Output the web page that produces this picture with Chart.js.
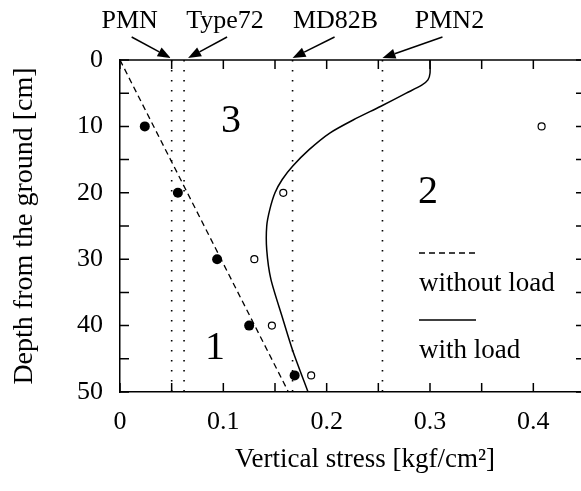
<!DOCTYPE html>
<html>
<head>
<meta charset="utf-8">
<script src="https://cdn.jsdelivr.net/npm/chart.js@4"></script>
<style>
  html, body { margin: 0; padding: 0; background: #fff; overflow: hidden; }
  #wrap { width: 581px; height: 491px; overflow: hidden; }
</style>
</head>
<body>
<div id="wrap"><canvas id="chart" width="600" height="491"></canvas></div>
<script>
// depth [cm] / vertical stress [kgf/cm2]
const depthWithLoad = [0, 2, 3, 3.8, 5, 7, 9, 11, 13.5, 16, 18, 20, 22.5, 25, 28.6, 33, 38.7, 43.7, 50];
const stressWithLoad = [0.300, 0.300, 0.298, 0.292, 0.277, 0.252, 0.226, 0.203, 0.183, 0.167, 0.157, 0.150, 0.145, 0.142, 0.142, 0.146, 0.157, 0.167, 0.182];
const depthWithoutLoad = [0, 50];
const stressWithoutLoad = [0, 0.163];
const measuredDepth = [10, 20, 30, 40, 47.5];
const measuredFilled = [0.024, 0.056, 0.094, 0.125, 0.169];
const measuredOpen = [0.408, 0.158, 0.130, 0.147, 0.185];
const mineNames = ['PMN', 'Type72', 'MD82B', 'PMN2'];
const mineStress = [0.050, 0.062, 0.167, 0.254];
const regionNames = ['1', '2', '3'];
const xTickLabels = ['0', '0.1', '0.2', '0.3', '0.4'];
const yTickLabels = ['0', '10', '20', '30', '40', '50'];

const FONT = "'Liberation Serif', 'Times New Roman', serif";

const toPoints = (xs, ys) => xs.map((x, i) => ({ x: x, y: ys[i] }));

const mineSets = mineStress.map((s, i) => ({
  label: mineNames[i],
  data: [{ x: s, y: 0 }, { x: s, y: 50 }],
  showLine: true,
  borderColor: '#000',
  borderWidth: 1.6,
  borderDash: [1.6, 8.4],
  pointRadius: 0
}));

// ticks drawn inward on all four sides, plus labels / arrows / legend
const decor = {
  id: 'decor',
  afterDraw(chart, args, opts) {
    const ctx = chart.ctx;
    const xs = chart.scales.x;
    const ys = chart.scales.y;
    const a = chart.chartArea;
    ctx.save();
    ctx.strokeStyle = '#000';
    ctx.fillStyle = '#000';
    ctx.lineWidth = 1.5;

    // top border
    ctx.beginPath();
    ctx.moveTo(a.left, a.top);
    ctx.lineTo(a.right, a.top);
    ctx.stroke();

    const tl = 9;
    ctx.beginPath();
    xs.ticks.forEach(t => {
      const px = xs.getPixelForValue(t.value);
      ctx.moveTo(px, a.bottom); ctx.lineTo(px, a.bottom - tl);
      ctx.moveTo(px, a.top); ctx.lineTo(px, a.top + tl);
    });
    ys.ticks.forEach(t => {
      const py = ys.getPixelForValue(t.value);
      ctx.moveTo(a.left, py); ctx.lineTo(a.left + tl, py);
      ctx.moveTo(a.right, py); ctx.lineTo(a.right - tl, py);
    });
    ctx.stroke();

    // region numbers
    ctx.font = '40px ' + FONT;
    ctx.textAlign = 'center';
    ctx.textBaseline = 'middle';
    regionNames.forEach((n, i) => {
      const p = opts.regionPos[i];
      ctx.fillText(n, xs.getPixelForValue(p[0]), ys.getPixelForValue(p[1]));
    });

    // mine names with arrows
    ctx.font = '26px ' + FONT;
    ctx.textBaseline = 'alphabetic';
    mineNames.forEach((n, i) => {
      const lx = xs.getPixelForValue(mineStress[i]);
      ctx.fillText(n, lx + opts.textDx[i], opts.textY);
      const x0 = lx + opts.tailDx[i], y0 = opts.tailY;
      const x1 = lx + opts.tipDx[i], y1 = opts.tipY;
      const ang = Math.atan2(y1 - y0, x1 - x0);
      const hl = 13, hw = 5;
      const bx = x1 - hl * Math.cos(ang), by = y1 - hl * Math.sin(ang);
      ctx.lineWidth = 1.5;
      ctx.beginPath();
      ctx.moveTo(x0, y0); ctx.lineTo(bx, by);
      ctx.stroke();
      ctx.beginPath();
      ctx.moveTo(x1, y1);
      ctx.lineTo(bx + hw * Math.sin(ang), by - hw * Math.cos(ang));
      ctx.lineTo(bx - hw * Math.sin(ang), by + hw * Math.cos(ang));
      ctx.closePath();
      ctx.fill();
    });

    // legend: line sample above its text
    const lg = opts.legend;
    ctx.font = '27px ' + FONT;
    ctx.textAlign = 'left';
    lg.items.forEach((idx, k) => {
      const ds = chart.data.datasets[idx];
      const y = lg.top + k * lg.step;
      ctx.lineWidth = 1.3;
      ctx.setLineDash(ds.borderDash || []);
      ctx.beginPath();
      ctx.moveTo(lg.left, y);
      ctx.lineTo(lg.left + lg.len, y);
      ctx.stroke();
      ctx.setLineDash([]);
      ctx.fillText(ds.label, lg.left, y + lg.textDy);
    });

    // x axis title
    ctx.font = '27px ' + FONT;
    ctx.textAlign = 'center';
    ctx.textBaseline = 'alphabetic';
    ctx.fillText(opts.xTitle, opts.xTitlePos[0], opts.xTitlePos[1]);
    ctx.restore();
  }
};

new Chart(document.getElementById('chart'), {
  type: 'scatter',
  data: {
    datasets: [
      {
        label: 'without load',
        data: toPoints(stressWithoutLoad, depthWithoutLoad),
        showLine: true,
        borderColor: '#000',
        borderWidth: 1.3,
        borderDash: [6, 4],
        pointRadius: 0
      },
      {
        label: 'with load',
        data: toPoints(stressWithLoad, depthWithLoad),
        showLine: true,
        borderColor: '#000',
        borderWidth: 1.5,
        tension: 0.25,
        pointRadius: 0
      },
      {
        label: 'filled',
        data: toPoints(measuredFilled, measuredDepth),
        pointRadius: 5,
        pointBackgroundColor: '#000',
        pointBorderColor: '#000',
        pointBorderWidth: 0
      },
      {
        label: 'open',
        data: toPoints(measuredOpen, measuredDepth),
        pointRadius: 3.5,
        pointBackgroundColor: '#fff',
        pointBorderColor: '#000',
        pointBorderWidth: 1.2
      },
      ...mineSets
    ]
  },
  options: {
    responsive: false,
    devicePixelRatio: 1,
    animation: false,
    layout: { padding: { top: 60, right: 15, left: 0, bottom: 0 } },
    plugins: {
      legend: { display: false },
      tooltip: { enabled: false },
      decor: {
        regionPos: [[0.092, 43.5], [0.298, 19.9], [0.1075, 9.3]],
        textDx: [-42, 41, 43, 67],
        textY: 28,
        tailDx: [-40, 43, 42, 60],
        tailY: 37,
        tipDx: [-1, 4, 0, 0],
        tipY: 58,
        legend: { items: [0, 1], left: 419, len: 57, top: 253, step: 67, textDy: 38 },
        xTitle: 'Vertical stress [kgf/cm²]',
        xTitlePos: [365, 467]
      }
    },
    scales: {
      x: {
        type: 'linear',
        min: 0,
        max: 0.45,
        afterFit: s => { s.height = 99; },
        grid: { drawOnChartArea: false, drawTicks: false },
        border: { color: '#000', width: 1.5 },
        ticks: {
          stepSize: 0.05,
          autoSkip: false,
          maxRotation: 0,
          padding: 15,
          color: '#000',
          font: { family: FONT, size: 26 },
          callback: v => {
            const i = Math.round(v * 10);
            return Math.abs(v * 10 - i) < 1e-6 && xTickLabels[i] ? xTickLabels[i] : '';
          }
        }
      },
      y: {
        type: 'linear',
        reverse: true,
        min: 0,
        max: 50,
        afterFit: s => { s.width = 120; },
        grid: { drawOnChartArea: false, drawTicks: false },
        border: { color: '#000', width: 1.5 },
        title: {
          display: true,
          text: 'Depth from the ground [cm]',
          color: '#000',
          font: { family: FONT, size: 28 },
          padding: { top: 8, bottom: 0 }
        },
        ticks: {
          stepSize: 5,
          autoSkip: false,
          padding: 17,
          color: '#000',
          font: { family: FONT, size: 26 },
          callback: v => (v % 10 === 0 ? yTickLabels[v / 10] : '')
        }
      }
    }
  },
  plugins: [decor]
});
</script>
</body>
</html>
